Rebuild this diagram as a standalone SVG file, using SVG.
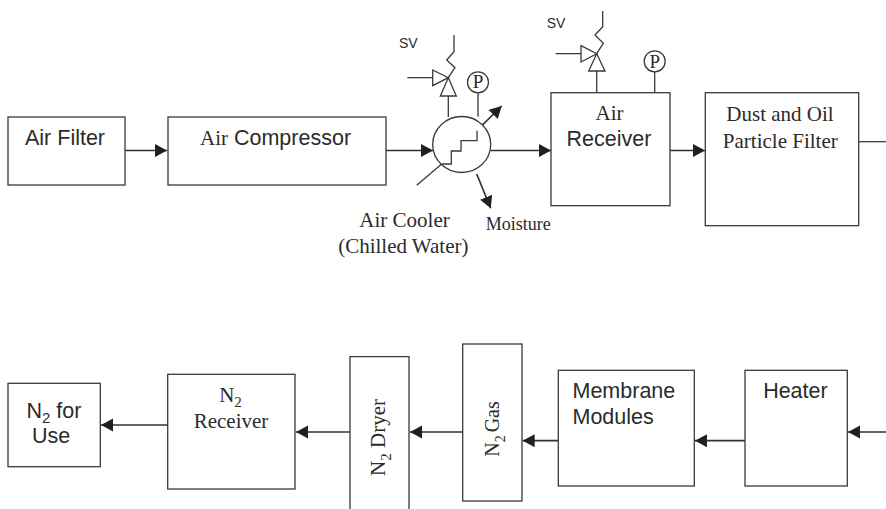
<svg xmlns="http://www.w3.org/2000/svg" width="886" height="509" viewBox="0 0 886 509">
<defs>
<marker id="ah" markerUnits="userSpaceOnUse" markerWidth="13" markerHeight="14" refX="12" refY="6.500" orient="auto"><path d="M0 0L12 6.500L0 13Z" fill="#231f20"/></marker>
</defs>
<style>
.b{fill:#fff;stroke:#3a3a3a;stroke-width:1.3}
.o{fill:none;stroke:#3a3a3a;stroke-width:1.3}
.c{fill:none;stroke:#333;stroke-width:1.7}
.a{marker-end:url(#ah)}
.s{font-family:"Liberation Sans",Arial,sans-serif;font-size:21.500px;fill:#2b2b2b}
.t{font-family:"Liberation Serif","Times New Roman",serif;font-size:21px;fill:#2b2b2b}
.m{text-anchor:middle}
.p{font-size:19px}
.v{font-size:14px}
</style>
<g id="connectors">
<path class="c a" d="M125 150.500H167"/>
<path class="c a" d="M386 150.500H433"/>
<path class="c a" d="M490.500 150.500H551"/>
<path class="c a" d="M670 150.500H705"/>
<path class="o" d="M858.700 141.700H886"/>
<path class="c a" d="M886 432H848"/>
<path class="c a" d="M745 440.700H695"/>
<path class="c a" d="M558 440.700H522.700"/>
<path class="c a" d="M463 432H410"/>
<path class="c a" d="M350 432H296"/>
<path class="c a" d="M168 425H101"/>
<path class="c a" d="M476.700 174L490.700 208.300"/>
<path class="c a" d="M476.700 130.700L501.700 106"/>
<path class="o" d="M416.700 185.300L441.700 164"/>
</g>
<g id="air-filter"><rect class="b" x="8" y="117" width="117" height="68"/><text class="s" x="25" y="145">Air Filter</text></g>
<g id="air-compressor"><rect class="b" x="168" y="117" width="218" height="68"/><text class="s" x="200" y="145"><tspan font-family="Liberation Serif" font-size="21">Air</tspan> Compressor</text></g>
<g id="air-cooler">
<ellipse class="b" cx="461.700" cy="144.500" rx="29" ry="28"/>
<path class="o" d="M441.700 164H451.300V151H461V140.700H477V130.700"/>
<path class="o" d="M448.300 96V117M478 92.800V116.700"/>
<path class="o" d="M407.300 77.700H432.700M432.700 70L448.300 77.700L432.700 85.700Z"/>
<path class="o" d="M448.300 77.700L440.300 96H456.300Z"/>
<path class="o" d="M448.300 77.700L455 67.700L446.700 60L454 51.700V35"/>
<circle class="o" cx="478" cy="82.300" r="10.500"/>
<text class="t m p" x="478" y="88">P</text>
<text class="s v" x="399" y="48">SV</text>
<text class="t m" x="404.500" y="226.700">Air Cooler</text>
<text class="t m" x="403.300" y="253">(Chilled Water)</text>
<text class="t" x="485.700" y="230" style="font-size:18px">Moisture</text>
</g>
<g id="air-receiver">
<rect class="b" x="551" y="92.700" width="119" height="113"/>
<path class="o" d="M596.700 71V92.700M654.700 71.800V92.700"/>
<path class="o" d="M555.700 53.700H581M581 45.700L596.700 53.700L581 62Z"/>
<path class="o" d="M596.700 53.700L588.700 71H605Z"/>
<path class="o" d="M596.700 53.700L603.300 43.300L595 35L602.700 26.700V11"/>
<circle class="o" cx="654.700" cy="61.300" r="10.500"/>
<text class="t m p" x="654.700" y="68">P</text>
<text class="s v" x="546.700" y="27.700">SV</text>
<text class="t m" x="609.500" y="120">Air</text>
<text class="s m" x="609" y="145.700">Receiver</text>
</g>
<g id="dust-filter"><rect class="b" x="705.300" y="92.700" width="153.400" height="133"/><text class="t m" x="780" y="120.700">Dust and Oil</text><text class="t m" x="780.300" y="147.700">Particle Filter</text></g>
<g id="heater"><rect class="b" x="745" y="370.300" width="102.300" height="115.700"/><text class="s m" x="795.400" y="398.300">Heater</text></g>
<g id="membrane-modules"><rect class="b" x="558.300" y="370.300" width="136" height="115.700"/><text class="s" x="572.500" y="398.300">Membrane</text><text class="s" x="572.500" y="424">Modules</text></g>
<g id="n2-gas"><rect class="b" x="462.700" y="344" width="59.300" height="157"/><text class="t m" transform="translate(499 429) rotate(-90)" font-size="20" style="font-size:20px">N<tspan dy="6" font-size="14" style="font-size:14px">2</tspan><tspan dy="-6" dx="3">Gas</tspan></text></g>
<g id="n2-dryer"><path class="b" d="M350 509V356.700H409V509"/><text class="t m" transform="translate(385 437.500) rotate(-90)">N<tspan dy="6" font-size="15">2</tspan><tspan dy="-6"> Dryer</tspan></text></g>
<g id="n2-receiver"><rect class="b" x="167.700" y="374.300" width="127.300" height="114.700"/><text class="t m" x="230.500" y="402.300">N<tspan dy="5" font-size="15">2</tspan></text><text class="t m" x="231" y="428.300">Receiver</text></g>
<g id="n2-use"><rect class="b" x="8" y="383.300" width="92.300" height="83.400"/><text class="s m" x="54" y="418.300">N<tspan dy="5" font-size="15">2</tspan><tspan dy="-5"> for</tspan></text><text class="s m" x="51" y="442.700">Use</text></g>
</svg>
